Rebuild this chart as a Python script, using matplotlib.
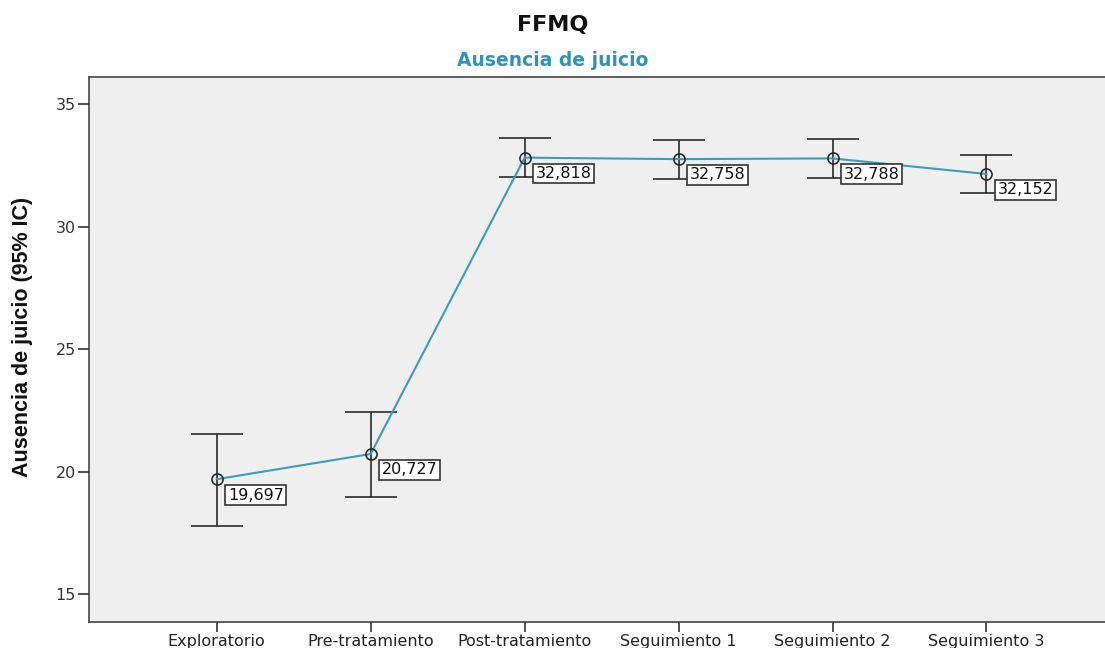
import matplotlib
matplotlib.use("Agg")
import matplotlib.pyplot as plt

categories = ["Exploratorio", "Pre-tratamiento", "Post-tratamiento",
              "Seguimiento 1", "Seguimiento 2", "Seguimiento 3"]
means = [19.697, 20.727, 32.818, 32.758, 32.788, 32.152]
ci_low = [17.80, 18.98, 32.02, 31.95, 32.00, 31.37]
ci_high = [21.56, 22.45, 33.61, 33.54, 33.58, 32.94]
mean_labels = ["19,697", "20,727", "32,818", "32,758", "32,788", "32,152"]
yticks = [15, 20, 25, 30, 35]

plt.rcParams['font.family'] = ['DejaVu Sans']

fig = plt.figure(figsize=(11.05, 6.48), dpi=100)
ax = fig.add_axes([0.0805, 0.0401, 0.9195, 0.8411])
ax.set_facecolor("#efefef")

x = list(range(len(categories)))
line_color = "#3c9cc0"
dark = "#2b2b2b"

yerr = [[m - lo for m, lo in zip(means, ci_low)],
        [hi - m for m, hi in zip(means, ci_high)]]
ax.errorbar(x, means, yerr=yerr, fmt='none', ecolor=dark, elinewidth=1.2,
            capsize=19, capthick=1.2, zorder=2)
ax.plot(x, means, color=line_color, lw=1.5, zorder=3)
ax.plot(x, means, 'o', ms=8, mfc='none', mec=dark, mew=1.2, zorder=4)

for xi, m, lab in zip(x, means, mean_labels):
    ax.annotate(lab, (xi, m), xytext=(8, -6), textcoords='offset points',
                ha='left', va='top', fontsize=11.5, color="#111111",
                bbox=dict(boxstyle='square,pad=0.15', fc='white',
                          ec='#333333', lw=1.2), zorder=5)

ax.set_xlim(-0.83, 5.77)
ax.set_ylim(13.87, 36.11)
ax.set_xticks(x)
ax.set_xticklabels(categories, fontsize=11.5, color="#222222")
ax.set_yticks(yticks)
ax.set_yticklabels([str(t) for t in yticks], fontsize=11.5, color="#333333")
ax.tick_params(axis='y', direction='out', length=8, width=1.2, color="#333333", pad=1.5)
ax.tick_params(axis='x', direction='out', length=7, width=1.2, color="#333333", pad=1.5)
for s in ['left', 'bottom', 'top']:
    ax.spines[s].set_color("#444444")
    ax.spines[s].set_linewidth(1.2)
ax.spines['right'].set_visible(False)

fig.text(23 / 1105, 1 - 337 / 648, "Ausencia de juicio (95% IC)", rotation=90,
         ha='center', va='center', fontsize=15.5, fontweight='bold',
         color="#111111", fontfamily='Liberation Sans')

fig.text(553 / 1105, 1 - 25 / 648, "FFMQ", ha='center', va='center', fontsize=16,
         fontweight='bold', color="#111111")
fig.text(553 / 1105, 1 - 61 / 648, "Ausencia de juicio", ha='center', va='center',
         fontsize=13.5, fontweight='bold', color="#2f93b8")

fig.savefig("out.png", dpi=100)
